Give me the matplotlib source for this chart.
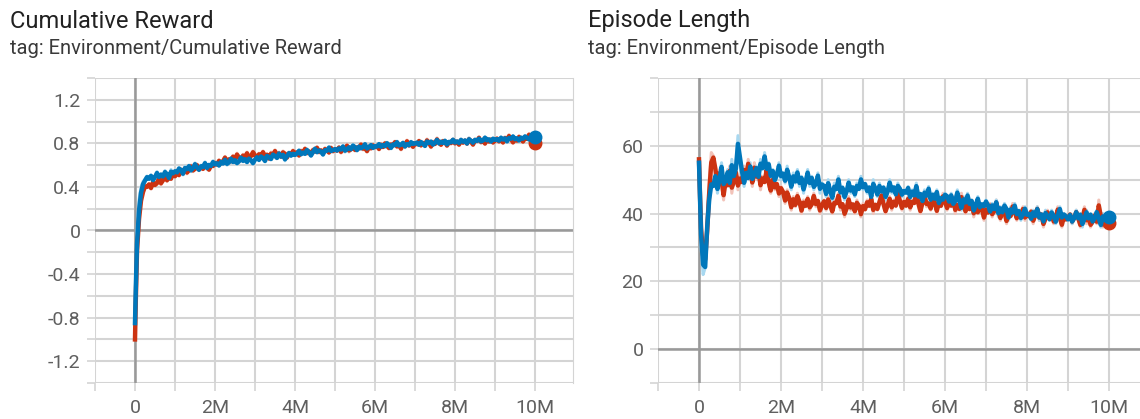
import numpy as np
import matplotlib
matplotlib.use('Agg')
import matplotlib.pyplot as plt
from matplotlib.ticker import FuncFormatter, MultipleLocator

plt.rcParams['font.family'] = ['Roboto', 'DejaVu Sans']
plt.rcParams['axes.unicode_minus'] = False

# training steps, in millions
steps_m = np.concatenate([[0, 0.02, 0.05, 0.1, 0.15, 0.2, 0.25, 0.3],
                          np.round(np.arange(0.35, 10.001, 0.05), 2)])

# raw scalars (run A = red, run B = blue)
reward_red = [-1.00, -0.55, -0.05, 0.20, 0.33, 0.38, 0.42, 0.40,
              0.43, 0.38, 0.46, 0.41, 0.44, 0.49, 0.42, 0.47, 0.51, 0.45, 0.50, 0.47, 0.54, 0.49,
              0.55, 0.50, 0.57, 0.53, 0.58, 0.52, 0.56, 0.60, 0.54, 0.57, 0.61, 0.55, 0.59, 0.56, 0.62, 0.58, 0.55, 0.61, 0.59, 0.63,
              0.60, 0.65, 0.61, 0.64, 0.68, 0.62, 0.66, 0.63, 0.69, 0.65, 0.71, 0.66, 0.64, 0.70, 0.67, 0.72, 0.65, 0.69, 0.73, 0.68,
              0.66, 0.71, 0.68, 0.73, 0.67, 0.70, 0.65, 0.72, 0.69, 0.74, 0.68, 0.71, 0.67, 0.73, 0.70, 0.66, 0.72, 0.69, 0.74, 0.70,
              0.72, 0.68, 0.74, 0.71, 0.76, 0.70, 0.73, 0.69, 0.75, 0.72, 0.77, 0.71, 0.74, 0.70, 0.76, 0.73, 0.71, 0.77, 0.72, 0.75,
              0.73, 0.77, 0.71, 0.76, 0.74, 0.79, 0.72, 0.75, 0.78, 0.73, 0.77, 0.75, 0.80, 0.74, 0.76, 0.72, 0.78, 0.75, 0.79, 0.76,
              0.78, 0.74, 0.80, 0.76, 0.81, 0.77, 0.75, 0.80, 0.78, 0.82, 0.76, 0.79, 0.74, 0.81, 0.78, 0.83, 0.77, 0.80, 0.76, 0.81,
              0.79, 0.83, 0.77, 0.81, 0.78, 0.84, 0.80, 0.76, 0.82, 0.79, 0.85, 0.80, 0.78, 0.83, 0.81, 0.77, 0.82, 0.80, 0.84, 0.79,
              0.82, 0.78, 0.84, 0.80, 0.83, 0.79, 0.85, 0.81, 0.78, 0.84, 0.82, 0.86, 0.80, 0.83, 0.79, 0.85, 0.81, 0.84, 0.80, 0.83,
              0.85, 0.81, 0.84, 0.80, 0.86, 0.82, 0.88, 0.83, 0.80, 0.85, 0.82, 0.87, 0.83, 0.81, 0.86, 0.84, 0.89, 0.83, 0.82, 0.80]
reward_blue = [-0.85, -0.45, 0.00, 0.28, 0.40, 0.45, 0.47, 0.50,
               0.47, 0.51, 0.45, 0.50, 0.54, 0.48, 0.52, 0.49, 0.55, 0.51, 0.47, 0.56, 0.52, 0.55,
               0.53, 0.58, 0.55, 0.51, 0.59, 0.56, 0.60, 0.54, 0.58, 0.62, 0.57, 0.55, 0.60, 0.58, 0.63, 0.56, 0.61, 0.59, 0.64, 0.60,
               0.62, 0.59, 0.64, 0.61, 0.66, 0.60, 0.63, 0.67, 0.62, 0.65, 0.61, 0.64, 0.68, 0.63, 0.66, 0.62, 0.67, 0.64, 0.61, 0.66,
               0.68, 0.64, 0.69, 0.66, 0.63, 0.70, 0.67, 0.65, 0.71, 0.68, 0.66, 0.72, 0.67, 0.70, 0.64, 0.69, 0.72, 0.68, 0.71, 0.69,
               0.71, 0.74, 0.69, 0.72, 0.70, 0.75, 0.71, 0.68, 0.73, 0.76, 0.71, 0.74, 0.72, 0.69, 0.75, 0.73, 0.77, 0.72, 0.74, 0.75,
               0.73, 0.76, 0.74, 0.78, 0.72, 0.75, 0.77, 0.74, 0.79, 0.76, 0.73, 0.78, 0.75, 0.77, 0.80, 0.74, 0.77, 0.79, 0.75, 0.78,
               0.77, 0.80, 0.76, 0.79, 0.77, 0.81, 0.78, 0.75, 0.80, 0.78, 0.82, 0.77, 0.79, 0.81, 0.76, 0.80, 0.78, 0.82, 0.79, 0.80,
               0.81, 0.78, 0.82, 0.79, 0.77, 0.83, 0.80, 0.82, 0.78, 0.81, 0.84, 0.79, 0.82, 0.80, 0.83, 0.78, 0.82, 0.81, 0.84, 0.80,
               0.82, 0.80, 0.84, 0.81, 0.83, 0.79, 0.85, 0.82, 0.80, 0.84, 0.82, 0.85, 0.81, 0.83, 0.86, 0.82, 0.84, 0.81, 0.85, 0.83,
               0.84, 0.82, 0.86, 0.83, 0.85, 0.81, 0.86, 0.84, 0.87, 0.83, 0.85, 0.82, 0.86, 0.84, 0.87, 0.85, 0.83, 0.86, 0.85, 0.86]

length_red = [56, 45, 32, 25, 26, 38, 50, 58,
              57, 52, 47, 53, 49, 44, 51, 48, 54, 46, 50, 53, 47, 51,
              49, 54, 50, 56, 52, 48, 55, 50, 53, 47, 51, 49, 54, 48, 46, 51, 47, 49, 45, 48,
              46, 43, 47, 44, 41, 45, 42, 46, 43, 40, 44, 42, 45, 41, 43, 46, 42, 44, 40, 43,
              44, 41, 45, 42, 40, 44, 43, 46, 41, 43, 39, 42, 45, 41, 43, 40, 44, 42, 39, 43,
              41, 44, 42, 45, 40, 43, 41, 44, 46, 42, 40, 43, 45, 41, 44, 42, 47, 43, 41, 44,
              42, 45, 41, 44, 43, 47, 42, 40, 44, 46, 42, 43, 41, 45, 43, 40, 44, 42, 46, 43,
              41, 44, 42, 45, 40, 43, 41, 46, 42, 40, 43, 41, 44, 39, 42, 40, 43, 41, 38, 42,
              40, 43, 39, 41, 44, 40, 38, 42, 40, 37, 41, 39, 43, 40, 38, 41, 39, 42, 38, 40,
              39, 41, 37, 40, 42, 38, 40, 36, 39, 41, 38, 40, 37, 39, 42, 38, 36, 40, 38, 39,
              40, 37, 39, 41, 38, 36, 39, 42, 37, 39, 36, 38, 40, 37, 44, 38, 36, 39, 37, 37]
length_blue = [55, 44, 30, 22, 24, 40, 47, 50,
               48, 52, 46, 51, 55, 47, 50, 53, 48, 56, 50, 54, 63, 55,
               51, 48, 53, 50, 55, 49, 52, 54, 50, 56, 53, 58, 52, 55, 50, 53, 49, 52, 55, 50,
               52, 49, 54, 50, 47, 52, 49, 53, 48, 51, 46, 50, 53, 48, 51, 47, 49, 52, 46, 49,
               48, 45, 50, 46, 44, 49, 47, 51, 45, 48, 44, 47, 50, 46, 48, 45, 49, 47, 51, 47,
               49, 46, 48, 44, 50, 47, 45, 49, 46, 48, 44, 47, 50, 46, 48, 45, 49, 47, 45, 47,
               46, 48, 44, 47, 45, 49, 44, 46, 43, 47, 45, 48, 43, 46, 44, 47, 42, 45, 44, 46,
               45, 43, 46, 42, 44, 47, 43, 41, 45, 43, 46, 42, 44, 40, 43, 45, 41, 43, 42, 44,
               42, 40, 43, 41, 44, 39, 42, 40, 43, 41, 38, 42, 40, 43, 39, 41, 38, 40, 42, 39,
               40, 38, 41, 39, 42, 38, 40, 37, 41, 39, 38, 41, 39, 37, 40, 42, 38, 40, 39, 38,
               40, 37, 39, 41, 38, 40, 36, 39, 41, 38, 40, 37, 39, 41, 38, 36, 40, 38, 39, 39]

SMOOTHING = 0.25
GRID = '#d4d4d4'
ZERO = '#999999'
RED, RED_RAW = '#cc3311', '#f2c3b9'
BLUE, BLUE_RAW = '#0077bb', '#a8d8f0'


def ema(vals, w):
    # tensorboard style debiased exponential moving average
    out, last = [], 0.0
    for i, v in enumerate(vals):
        last = last * w + (1 - w) * v
        out.append(last / (1 - w ** (i + 1)))
    return np.array(out)


def fmt_x(v, pos):
    v = int(round(v))
    if v % 2:
        return ''
    return '0' if v == 0 else f'{v}M'


def draw_panel(ax, red, blue, ylim, ystep, ylabels):
    ax.set_xlim(-1, 10.95)
    ax.set_ylim(*ylim)
    ax.xaxis.set_major_locator(MultipleLocator(1))
    ax.xaxis.set_major_formatter(FuncFormatter(fmt_x))
    ax.yaxis.set_major_locator(MultipleLocator(ystep))
    ax.yaxis.set_major_formatter(FuncFormatter(
        lambda v, p: ylabels.get(round(v, 3), '')))
    ax.set_axisbelow(True)
    ax.grid(True, color=GRID, lw=1.5)
    ax.axhline(0, color=ZERO, lw=1.8, zorder=1.8)
    ax.axvline(0, color=ZERO, lw=1.8, zorder=1.8)
    for s in ['top', 'bottom', 'left']:
        ax.spines[s].set_visible(False)
    ax.spines['right'].set_color(GRID)
    ax.tick_params(length=5.5, width=1.2, color=GRID, labelsize=14,
                   labelcolor='#5f5f5f')
    ax.tick_params(axis='x', pad=6)
    ax.tick_params(axis='y', pad=5)

    ax.plot(steps_m, red, color=RED_RAW, lw=2.2, zorder=2)
    ax.plot(steps_m, blue, color=BLUE_RAW, lw=2.2, zorder=2)
    red_s = ema(red, SMOOTHING)
    blue_s = ema(blue, SMOOTHING)
    ax.plot(steps_m, red_s, color=RED, lw=3.2, zorder=3)
    ax.plot(steps_m[-1], red_s[-1], 'o', color=RED, ms=9, zorder=3)
    ax.plot(steps_m, blue_s, color=BLUE, lw=3.2, zorder=4)
    ax.plot(steps_m[-1], blue_s[-1], 'o', color=BLUE, ms=9, zorder=4)


fig = plt.figure(figsize=(11.4, 4.19), dpi=100)
W, H = 1140, 419
ax1 = fig.add_axes([95 / W, 36 / H, 478 / W, 305 / H])
ax2 = fig.add_axes([658 / W, 36 / H, 490 / W, 305 / H])

draw_panel(ax1, reward_red, reward_blue, (-1.4, 1.4), 0.2,
           {1.2: '1.2', 0.8: '0.8', 0.4: '0.4', 0.0: '0',
            -0.4: '-0.4', -0.8: '-0.8', -1.2: '-1.2'})
draw_panel(ax2, length_red, length_blue, (-10, 80), 10,
           {0.0: '0', 20.0: '20', 40.0: '40', 60.0: '60'})

for x0, title, tag in [(10, 'Cumulative Reward', 'Environment/Cumulative Reward'),
                       (588, 'Episode Length', 'Environment/Episode Length')]:
    fig.text(x0 / W, 1 - 21 / H, title, fontsize=17, color='#212121',
             va='center', ha='left')
    fig.text(x0 / W, 1 - 48 / H, 'tag: ' + tag, fontsize=14.5,
             color='#3a3a3a', va='center', ha='left')

fig.savefig('out.png', dpi=100)
